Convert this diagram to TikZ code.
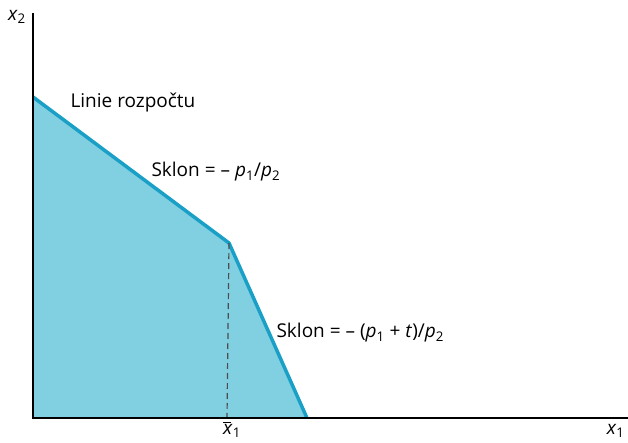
\documentclass[tikz,border=0pt]{standalone}
\usepackage{fontspec}
\setmainfont{Open Sans}
\usepackage{xcolor}
\usepackage{tikz}
\usetikzlibrary{positioning}

\definecolor{budgetline}{HTML}{1A9FC6}
\definecolor{budgetfill}{HTML}{80D0E2}
\newcommand{\sub}[1]{\textsubscript{#1}}

\begin{document}
\begin{tikzpicture}[x=1pt, y=-1pt, font=\fontsize{19}{22}\selectfont]
		\useasboundingbox (0,0) rectangle (628,442);
		\coordinate (o) at (33,418);
		\coordinate (top) at (33,13);
		\coordinate (right) at (628,418);
		\coordinate (a) at (33,97);
		\coordinate (kink) at (229,243);
		\coordinate (b) at (307,418);
		\coordinate (foot) at (227,418);
		
		\fill[budgetfill] (o) -- (a) -- (kink) -- (b) -- cycle;
		\draw[budgetline, line width=3.5pt, line join=miter] (a) -- (kink) -- (b);
		\draw[black!70, dashed, dash pattern=on 6pt off 4pt, line width=1.2pt] (kink) -- (foot);
		\draw[black, line width=2.2pt] (top) -- (o) -- (right);
		
		\node (x2) at (17,17) {\textit{x}\sub{2}};
		\node[anchor=base east] (x1) at (628,434) {\textit{x}\sub{1}};
		\node[anchor=base] (xbar) at (232,434) {\rlap{\raisebox{1.15ex}{\rule{0.42em}{0.7pt}}}\textit{x}\sub{1}};
		\node[anchor=west] (linie) at (67,103) {Linie rozpočtu};
		\node[anchor=west] (sklon1) at (148,172) {Sklon = – \textit{p}\sub{1}/\textit{p}\sub{2}};
		\node[anchor=west] (sklon2) at (273,333) {Sklon = – (\textit{p}\sub{1} + \textit{t})/\textit{p}\sub{2}};
		\end{tikzpicture}
\end{document}
